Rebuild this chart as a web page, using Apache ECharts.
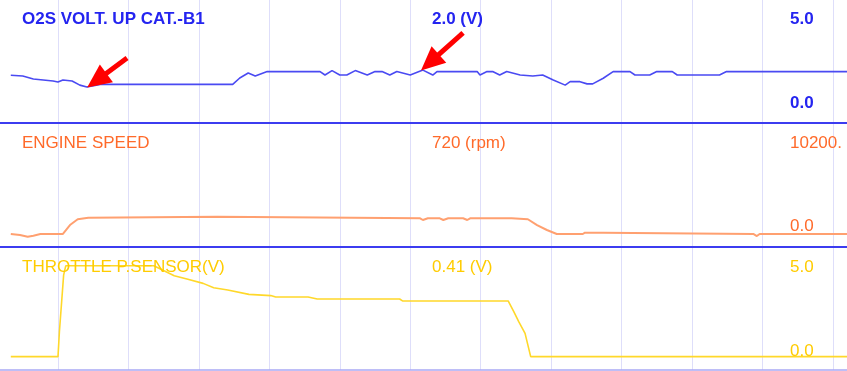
<!DOCTYPE html>
<html><head><meta charset="utf-8">
<script src="https://cdn.jsdelivr.net/npm/echarts@6/dist/echarts.min.js"></script>
<style>html,body{margin:0;padding:0;background:#fff;overflow:hidden}#c{width:847px;height:371px}</style>
</head><body><div id="c"></div>
<script>
// ---- data (t = sample time, grid line every 10 units) ----
const titles = ['O2S VOLT. UP CAT.-B1', 'ENGINE SPEED', 'THROTTLE P.SENSOR(V)'];
const readouts = ['2.0 (V)', '720 (rpm)', '0.41 (V)'];
const scaleTop = ['5.0', '10200.', '5.0'];
const scaleBottom = ['0.0', '0.0', '0.0'];
const scaleMax = [5, 10200, 5];

const o2sData = [[3.3,1.94],[5.0,1.91],[6.5,1.79],[9.3,1.71],[10.0,1.67],[10.7,1.75],[12.0,1.71],[13.1,1.54],[14.1,1.46],[16.0,1.57],[34.8,1.57],[35.8,1.83],[37.0,2.03],[38.0,1.91],[39.7,2.09],[40.5,2.09],[47.2,2.09],[47.9,1.95],[48.9,2.13],[50.0,1.95],[51.0,1.95],[52.2,2.13],[53.9,1.95],[55.0,2.09],[56.0,2.09],[57.1,1.95],[58.1,2.09],[60.0,1.95],[61.8,2.15],[63.2,1.95],[63.8,2.09],[69.5,2.09],[69.9,1.95],[70.9,2.09],[71.7,2.09],[72.7,1.95],[73.7,2.09],[75.6,1.95],[77.4,1.91],[78.8,1.95],[80.3,1.75],[82.0,1.54],[82.7,1.68],[84.1,1.68],[85.1,1.59],[85.9,1.59],[87.4,1.82],[88.8,2.09],[91.2,2.09],[91.9,1.95],[94.0,1.95],[95.0,2.09],[97.2,2.09],[97.9,1.95],[103.9,1.95],[104.9,2.09],[122,2.09]];

const rpmData = [[3.3,1080],[4.6,1000],[5.7,850],[6.5,940],[7.5,1080],[10.7,1080],[11.7,1820],[12.8,2300],[14.3,2430],[14.5,2510],[32.6,2510],[32.7,2380],[61.4,2380],[61.8,2240],[62.5,2380],[64.2,2380],[64.7,2240],[65.4,2380],[67.5,2380],[68.1,2240],[68.5,2380],[74.4,2380],[74.6,2300],[76.7,2300],[78.0,1820],[79.4,1410],[80.8,1080],[84.5,1080],[84.8,1190],[87.4,1190],[87.6,1080],[108.7,1080],[109.2,910],[109.6,1080],[122,1080]];

const tpsData = [[3.3,0.55],[10.0,0.55],[10.2,1.57],[10.8,3.89],[11.1,4.27],[23.6,4.27],[26.5,3.86],[28.3,3.73],[30.6,3.55],[32.1,3.37],[34.1,3.28],[37.1,3.10],[40.2,3.05],[40.9,2.99],[45.5,2.99],[46.8,2.91],[58.5,2.91],[58.9,2.83],[73.9,2.83],[74.7,2.39],[75.4,1.98],[76.3,1.50],[77.1,0.55],[122,0.55]];

// annotation arrows on the O2S trace: [tail, head] in data coords
const arrows = [[[19.8,2.64],[15.5,1.73]], [[67.5,3.66],[62.8,2.46]]];

const textColors = ['#2424f0', '#ff6a2a', '#ffcc00'];
const lineColors = ['#4a4af2', '#ffa070', '#ffd82a'];
const fontW = ['bold', 'normal', 'normal'];

const panels = [{top:0,h:123},{top:124,h:123},{top:248,h:122}];
const datasets = [o2sData, rpmData, tpsData];

const chart = echarts.init(document.getElementById('c'), null, {renderer:'canvas'});

const grids = panels.map(p => ({left:-12.45, right:0, top:p.top, height:p.h, containLabel:false, outerBoundsMode:'none'}));
const xAxes = panels.map((p,i) => ({
  type:'value', gridIndex:i, min:0, max:122, interval:10,
  axisLabel:{show:false}, axisTick:{show:false},
  axisLine:{show:true, onZero:false, lineStyle:{color: i<2 ? '#3c3cf0' : '#a8a8f4', width: i<2 ? 2 : 1.5}},
  splitLine:{show:true, showMinLine:false, showMaxLine:false, lineStyle:{color:'#dedefa', width:1}}
}));
const yAxes = panels.map((p,i) => ({
  type:'value', gridIndex:i, min:0, max:scaleMax[i], show:false, splitLine:{show:false}
}));
const series = datasets.map((d,i) => {
  const s = {
    type:'line', xAxisIndex:i, yAxisIndex:i, data:d, symbol:'none', smooth:false,
    lineStyle:{color:lineColors[i], width: i===1 ? 2 : 1.6}, silent:true, z:3
  };
  if (i===0) {
    s.markLine = {
      silent:true, symbol:['none','triangle'], symbolSize:[22,24],
      lineStyle:{color:'#ff0000', width:5, type:'solid'}, label:{show:false},
      emphasis:{disabled:true}, z:5,
      data: arrows.map(a => [{coord:a[0]},{coord:a[1]}])
    };
  }
  return s;
});

const textY = [[19.5,103.5],[143.5,226.5],[267,351.5]];
const graphic = [];
panels.forEach((p,i) => {
  const font = fontW[i] + ' 17px "Liberation Sans", Arial, sans-serif';
  const mk = (txt, x, y) => ({type:'text', z:10, style:{text:txt, x:x, y:y, fill:textColors[i], font:font, textAlign:'left', textVerticalAlign:'middle', verticalAlign:'middle'}});
  graphic.push(mk(titles[i], 22, textY[i][0]));
  graphic.push(mk(readouts[i], 432, textY[i][0]));
  graphic.push(mk(scaleTop[i], 790, textY[i][0]));
  graphic.push(mk(scaleBottom[i], 790, textY[i][1]));
});

chart.setOption({
  animation:false,
  backgroundColor:'#ffffff',
  grid:grids, xAxis:xAxes, yAxis:yAxes, series:series, graphic:graphic
});
</script></body></html>
